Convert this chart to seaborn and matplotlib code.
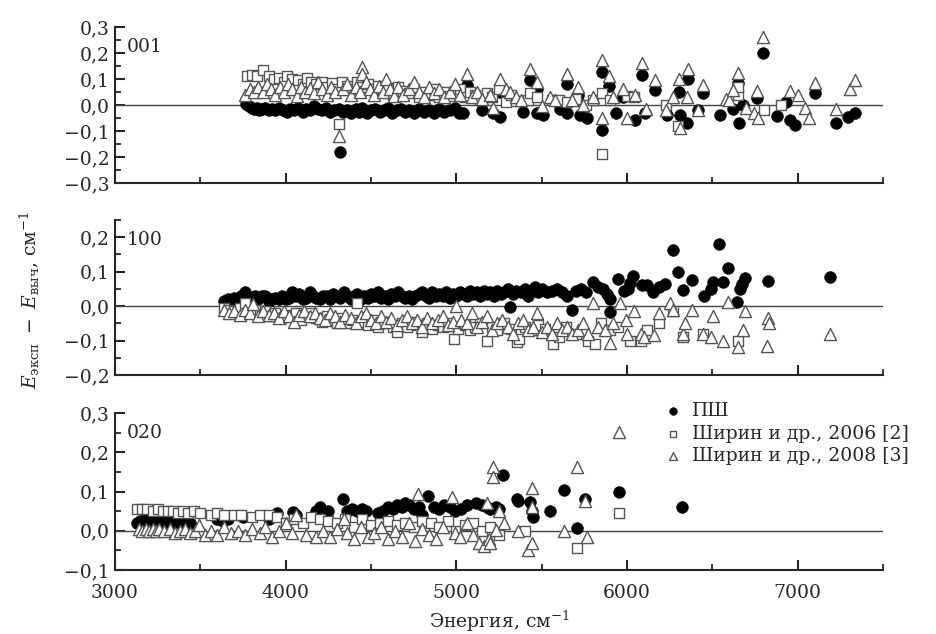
import numpy as np
import pandas as pd
import matplotlib
matplotlib.use("Agg")
import matplotlib.pyplot as plt
import seaborn as sns
from matplotlib.ticker import MultipleLocator, FuncFormatter

# ---------------- data ----------------
# Panel 001
p1_psh_x = [3770, 3785, 3800, 3815, 3830, 3845, 3860, 3880, 3900, 3920, 3940, 3960, 3985, 4005, 4025, 4050,
            4075, 4100, 4120, 4140, 4165, 4190, 4210, 4235, 4260, 4285, 4310, 4335, 4360, 4385, 4410, 4430,
            4450, 4475, 4500, 4525, 4550, 4575, 4600, 4625, 4650, 4675, 4700, 4725, 4750, 4780, 4810, 4840,
            4870, 4900, 4930, 4960, 4990, 5015, 5040, 4320,
            5060, 5148, 5216, 5255, 5255, 5392, 5431, 5470, 5470, 5505, 5606, 5648, 5648, 5714, 5724, 5763,
            5851, 5851, 5894, 5938, 5976, 6046, 6085, 6105, 6163, 6232, 6304, 6310, 6349, 6358, 6417, 6446,
            6545, 6621, 6651, 6656, 6680, 6759, 6798, 6876, 6930, 6954, 6983, 7101, 7227, 7295, 7335]
p1_psh_y = [0.005, -0.005, -0.010, -0.015, -0.010, -0.020, -0.015, -0.010, -0.020, -0.015, -0.020, -0.010,
            -0.020, -0.025, -0.015, -0.020, -0.010, -0.025, -0.015, -0.020, -0.005, -0.015, -0.020, -0.010,
            -0.025, -0.020, -0.015, -0.025, -0.020, -0.030, -0.015, -0.025, -0.010, -0.030, -0.020, -0.015,
            -0.025, -0.020, -0.010, -0.030, -0.020, -0.015, -0.025, -0.020, -0.030, -0.015, -0.025, -0.020,
            -0.030, -0.015, -0.025, -0.020, -0.010, -0.030, -0.030, -0.180,
            0.078, -0.020, -0.030, 0.050, -0.045, -0.025, 0.096, 0.060, -0.030, -0.040, -0.017, 0.080, -0.030,
            0.040, -0.040, -0.050, 0.128, -0.096, 0.073, -0.030, 0.032, -0.058, 0.115, -0.030, 0.058, -0.040,
            0.050, -0.040, -0.070, 0.100, -0.020, 0.045, -0.040, -0.016, 0.083, -0.070, 0.000, 0.026, 0.200,
            -0.042, 0.010, -0.058, -0.077, 0.047, -0.070, -0.045, -0.032]
p1_s06_x = [3775, 3800, 3830, 3870, 3900, 3930, 3960, 3990, 4010, 4040, 4070, 4100, 4125, 4150, 4180, 4210,
            4240, 4270, 4300, 4330, 4360, 4390, 4420, 4450, 4480, 4510, 4540, 4570, 4600, 4630, 4660, 4690,
            4720, 4750, 4780, 4810, 4840, 4870, 4900, 4930, 4960, 4990, 5020, 5050, 5080, 5110, 5140, 5180,
            5210, 5250, 5290, 5320, 5350, 5420, 5431, 5470, 5560, 5600, 5650, 5700, 5760, 5800, 5851, 5851,
            5900, 6000, 6040, 6230, 6300, 6650, 6650, 6900, 6800, 4312]
p1_s06_y = [0.110, 0.115, 0.110, 0.135, 0.110, 0.100, 0.105, 0.090, 0.110, 0.100, 0.095, 0.080, 0.105, 0.090,
            0.080, 0.090, 0.070, 0.085, 0.060, 0.090, 0.075, 0.060, 0.090, 0.070, 0.080, 0.060, 0.075, 0.050,
            0.065, 0.040, 0.070, 0.055, 0.045, 0.060, 0.030, 0.050, 0.040, 0.060, 0.030, 0.050, 0.035, 0.045,
            0.060, 0.030, 0.050, 0.040, 0.020, 0.045, 0.030, 0.060, 0.010, 0.040, 0.015, 0.020, 0.045, 0.030,
            0.020, 0.020, 0.010, 0.025, 0.000, 0.020, 0.045, -0.190, 0.020, 0.035, 0.030, 0.000, -0.080, 0.040,
            0.070, 0.000, -0.020, -0.073]
p1_s08_x = [3760, 3790, 3815, 3840, 3865, 3890, 3915, 3940, 3965, 3990, 4015, 4040, 4065, 4090, 4115, 4140,
            4165, 4190, 4215, 4240, 4265, 4290, 4312, 4335, 4360, 4385, 4410, 4435, 4445, 4445, 4470, 4495,
            4520, 4545, 4570, 4587, 4610, 4635, 4660, 4690, 4720, 4750, 4780, 4810, 4840, 4870, 4900, 4930,
            4960, 4990, 5020, 5060, 5090, 5120, 5150, 5200, 5216, 5255, 5290, 5314, 5350, 5380, 5431, 5470,
            5500, 5548, 5580, 5648, 5680, 5714, 5740, 5800, 5851, 5851, 5894, 5920, 5976, 6000, 6046, 6085,
            6110, 6163, 6230, 6270, 6304, 6310, 6349, 6358, 6417, 6446, 6579, 6600, 6621, 6651, 6700, 6745,
            6759, 6767, 6798, 6954, 7000, 7042, 7065, 7101, 7227, 7308, 7335]
p1_s08_y = [0.040, 0.060, 0.050, 0.070, 0.050, 0.080, 0.060, 0.040, 0.070, 0.050, 0.080, 0.060, 0.035, 0.070,
            0.050, 0.065, 0.045, 0.090, 0.060, 0.040, 0.070, 0.050, -0.120, 0.060, 0.080, 0.040, 0.070, 0.050,
            0.147, 0.120, 0.090, 0.060, 0.040, 0.075, 0.050, 0.100, 0.060, 0.035, 0.070, 0.040, 0.060, 0.090,
            0.050, 0.030, 0.070, 0.045, 0.060, 0.030, 0.050, 0.080, 0.040, 0.120, 0.030, 0.050, 0.025, 0.040,
            -0.010, 0.100, 0.060, 0.050, 0.030, 0.020, 0.140, 0.090, -0.005, 0.030, 0.020, 0.120, 0.020, 0.070,
            0.000, 0.030, 0.175, -0.050, 0.110, 0.030, 0.060, -0.050, 0.040, 0.160, -0.015, 0.096, -0.020,
            0.030, 0.100, -0.090, 0.030, 0.140, -0.020, 0.077, 0.023, 0.020, 0.056, 0.124, -0.010, -0.030,
            0.055, -0.050, 0.260, 0.055, 0.038, -0.013, -0.050, 0.083, -0.017, 0.060, 0.096]

# Panel 100
p2_psh_x = [3640, 3660, 3680, 3700, 3720, 3740, 3760, 3780, 3800, 3820, 3840, 3860, 3880, 3900, 3920, 3940,
            3960, 3980, 4000, 4020, 4040, 4060, 4080, 4100, 4120, 4140, 4160, 4180, 4200, 4220, 4240, 4260,
            4280, 4300, 4320, 4340, 4360, 4380, 4400, 4420, 4440, 4460, 4480, 4500, 4520, 4540, 4560, 4580,
            4600, 4620, 4640, 4660, 4680, 4700, 4720, 4740, 4760, 4780, 4800, 4820, 4840, 4860, 4880, 4900,
            4920, 4940, 4960, 4980, 5000, 5020, 5040, 5060, 5080, 5100, 5120, 5140, 5160, 5180, 5200, 5220,
            5240, 5260, 5280, 5300, 5314, 5330, 5350, 5380, 5400, 5420, 5440, 5460, 5480, 5500, 5530, 5560,
            5590, 5620, 5650, 5675, 5700, 5730, 5760, 5802, 5830, 5860, 5880, 5898, 5900, 5949, 5980, 6007,
            6017, 6036, 6085, 6120, 6150, 6190, 6222, 6271, 6300, 6329, 6378, 6451, 6493, 6505, 6540, 6564,
            6593, 6646, 6660, 6672, 6691, 6827, 7189]
p2_psh_y = [0.015, 0.020, 0.018, 0.025, 0.020, 0.030, 0.040, 0.020, 0.025, 0.030, 0.020, 0.030, 0.030, 0.015,
            0.020, 0.025, 0.020, 0.030, 0.020, 0.025, 0.040, 0.030, 0.035, 0.020, 0.025, 0.040, 0.030, 0.025,
            0.020, 0.030, 0.030, 0.020, 0.035, 0.030, 0.025, 0.040, 0.030, 0.020, 0.030, 0.035, 0.020, 0.030,
            0.025, 0.035, 0.030, 0.040, 0.025, 0.030, 0.020, 0.035, 0.030, 0.040, 0.030, 0.025, 0.030, 0.020,
            0.030, 0.035, 0.040, 0.030, 0.025, 0.040, 0.030, 0.035, 0.030, 0.040, 0.025, 0.035, 0.030, 0.040,
            0.035, 0.030, 0.045, 0.035, 0.040, 0.030, 0.045, 0.035, 0.040, 0.030, 0.045, 0.035, 0.040, 0.050,
            -0.003, 0.035, 0.045, 0.040, 0.050, 0.030, 0.045, 0.055, 0.040, 0.050, 0.040, 0.045, 0.050, 0.040,
            0.030, -0.010, 0.045, 0.050, 0.040, 0.070, 0.055, 0.050, 0.035, -0.017, 0.020, 0.080, 0.045, 0.050,
            0.067, 0.087, 0.060, 0.060, 0.040, 0.055, 0.065, 0.164, 0.100, 0.048, 0.075, 0.029, 0.050, 0.070,
            0.180, 0.070, 0.111, 0.012, 0.050, 0.065, 0.083, 0.073, 0.085]
p2_s06_x = [3640, 3670, 3700, 3730, 3760, 3790, 3820, 3850, 3880, 3910, 3940, 3970, 4000, 4030, 4060, 4090,
            4120, 4150, 4180, 4210, 4240, 4270, 4300, 4330, 4360, 4390, 4420, 4450, 4480, 4510, 4540, 4570,
            4600, 4630, 4650, 4680, 4710, 4740, 4770, 4797, 4830, 4860, 4890, 4920, 4950, 4986, 5010, 5050,
            5080, 5110, 5140, 5177, 5210, 5240, 5280, 5320, 5353, 5370, 5400, 5440, 5480, 5520, 5568, 5600,
            5640, 5700, 5773, 5812, 5850, 5900, 5950, 6017, 6080, 6120, 6190, 6270, 6329, 6446, 6651]
p2_s06_y = [-0.005, -0.010, -0.015, -0.005, 0.010, -0.020, -0.010, -0.025, -0.015, -0.030, -0.020, -0.035,
            -0.025, -0.030, -0.020, -0.040, -0.030, -0.020, -0.035, -0.045, -0.030, -0.040, -0.050, -0.035,
            -0.050, -0.040, 0.010, -0.045, -0.055, -0.040, -0.060, -0.045, -0.050, -0.060, -0.075, -0.050,
            -0.060, -0.045, -0.055, -0.075, -0.050, -0.065, -0.055, -0.060, -0.050, -0.095, -0.065, -0.055,
            -0.070, -0.060, -0.050, -0.100, -0.060, -0.070, -0.050, -0.065, -0.105, -0.095, -0.060, -0.070,
            -0.055, -0.065, -0.110, -0.090, -0.060, -0.080, -0.100, -0.110, -0.050, -0.070, -0.060, -0.100,
            -0.100, -0.070, -0.050, -0.015, -0.090, -0.080, -0.100]
p2_s08_x = [3640, 3670, 3700, 3730, 3760, 3790, 3810, 3840, 3870, 3900, 3930, 3960, 3990, 4020, 4050, 4080,
            4110, 4140, 4170, 4200, 4230, 4260, 4290, 4320, 4350, 4380, 4410, 4440, 4470, 4500, 4530, 4560,
            4590, 4620, 4650, 4680, 4710, 4740, 4770, 4800, 4830, 4860, 4890, 4920, 4950, 4980, 5000, 5030,
            5060, 5090, 5120, 5150, 5180, 5210, 5240, 5270, 5300, 5330, 5360, 5390, 5420, 5450, 5470, 5500,
            5530, 5560, 5590, 5620, 5650, 5680, 5710, 5740, 5770, 5800, 5830, 5870, 5900, 5920, 5960, 5997,
            6000, 6040, 6080, 6100, 6160, 6190, 6250, 6270, 6329, 6339, 6378, 6446, 6493, 6501, 6564, 6593,
            6651, 6681, 6691, 6822, 6827, 6830, 7189]
p2_s08_y = [-0.010, -0.020, -0.015, -0.025, -0.010, -0.020, 0.005, -0.030, -0.015, -0.025, -0.020, -0.035,
            -0.015, -0.030, -0.045, -0.025, -0.015, -0.030, -0.020, -0.035, -0.040, -0.020, -0.030, -0.045,
            -0.025, -0.035, -0.050, -0.030, -0.020, -0.040, -0.050, -0.030, -0.045, -0.035, -0.055, -0.040,
            -0.030, -0.050, -0.040, -0.060, -0.035, -0.050, -0.040, -0.030, -0.055, -0.045, 0.000, -0.040,
            -0.050, -0.020, -0.060, -0.045, -0.030, -0.070, -0.050, -0.040, -0.060, -0.080, -0.050, -0.040,
            -0.070, -0.060, -0.020, -0.075, -0.060, -0.080, -0.050, -0.070, -0.060, -0.080, -0.070, -0.050,
            -0.080, 0.010, -0.060, -0.070, -0.106, -0.050, 0.010, -0.040, -0.080, -0.015, -0.080, -0.090,
            -0.085, -0.020, 0.010, -0.010, -0.080, -0.048, -0.010, -0.080, -0.090, -0.030, -0.100, 0.012,
            -0.118, -0.070, -0.015, -0.115, -0.035, -0.050, -0.080]

# Panel 020
p3_psh_x = [3130, 3145, 3160, 3175, 3190, 3205, 3220, 3235, 3250, 3265, 3280, 3295, 3310, 3325, 3340, 3360,
            3380, 3400, 3420, 3440, 3600, 3630, 3660, 3750, 3900, 3950, 4045, 4060, 4180, 4201, 4250, 4337,
            4360, 4390, 4420, 4450, 4470, 4540, 4570, 4600, 4630, 4650, 4680, 4700, 4720, 4750, 4780, 4800,
            4835, 4870, 4900, 4930, 4960, 4990, 5030, 5060, 5118, 5150, 5180, 5200, 5230, 5250, 5271, 5353,
            5363, 5431, 5441, 5450, 5548, 5630, 5705, 5753, 5954, 6320]
p3_psh_y = [0.020, 0.025, 0.020, 0.030, 0.025, 0.020, 0.030, 0.025, 0.020, 0.030, 0.025, 0.020, 0.030, 0.025,
            0.020, 0.025, 0.020, 0.025, 0.020, 0.020, 0.030, 0.025, 0.030, 0.035, 0.030, 0.045, 0.047, 0.040,
            0.050, 0.060, 0.050, 0.082, 0.050, 0.055, 0.050, 0.055, 0.050, 0.045, 0.050, 0.060, 0.055, 0.065,
            0.060, 0.070, 0.065, 0.055, 0.060, 0.040, 0.088, 0.060, 0.055, 0.065, 0.060, 0.050, 0.055, 0.065,
            0.070, 0.065, 0.060, 0.055, 0.060, 0.055, 0.141, 0.081, 0.077, 0.074, 0.050, 0.035, 0.051, 0.104,
            0.008, 0.081, 0.100, 0.060]
p3_s06_x = [3130, 3160, 3190, 3220, 3250, 3280, 3310, 3340, 3370, 3400, 3430, 3460, 3500, 3560, 3600, 3640,
            3700, 3740, 3800, 3850, 3900, 3950, 4000, 4050, 4100, 4150, 4200, 4250, 4300, 4350, 4400, 4450,
            4500, 4550, 4600, 4650, 4700, 4750, 4800, 4850, 4900, 4950, 5000, 5050, 5100, 5150, 5200, 5250,
            5400, 5705, 5954]
p3_s06_y = [0.055, 0.055, 0.055, 0.050, 0.055, 0.050, 0.050, 0.050, 0.045, 0.050, 0.045, 0.050, 0.045, 0.040,
            0.045, 0.040, 0.040, 0.040, 0.035, 0.040, 0.040, 0.035, 0.020, 0.030, 0.020, 0.035, 0.030, 0.025,
            0.020, 0.030, 0.010, 0.030, 0.015, 0.020, 0.025, 0.015, 0.020, 0.010, 0.025, 0.020, 0.010, 0.025,
            0.000, 0.015, 0.020, 0.000, 0.010, -0.010, 0.000, -0.043, 0.044]
p3_s08_x = [3140, 3160, 3180, 3200, 3220, 3240, 3260, 3290, 3320, 3350, 3380, 3410, 3440, 3470, 3490, 3530,
            3560, 3600, 3640, 3680, 3720, 3760, 3800, 3850, 3880, 3920, 3960, 4000, 4040, 4060, 4120, 4180,
            4220, 4260, 4300, 4340, 4360, 4400, 4440, 4480, 4520, 4560, 4600, 4640, 4680, 4720, 4760, 4776,
            4800, 4840, 4880, 4920, 4972, 4990, 5020, 5060, 5100, 5130, 5160, 5180, 5190, 5200, 5216, 5216,
            5230, 5250, 5280, 5363, 5421, 5441, 5441, 5445, 5630, 5705, 5753, 5763, 5954]
p3_s08_y = [0.005, 0.000, 0.005, 0.000, 0.005, 0.000, 0.005, 0.000, 0.005, -0.005, 0.000, 0.005, -0.005,
            0.000, 0.015, -0.010, 0.000, -0.010, 0.010, -0.005, 0.000, -0.010, 0.005, -0.005, 0.010, -0.015,
            0.000, 0.020, -0.005, 0.040, -0.010, -0.015, 0.000, -0.015, 0.005, 0.030, -0.005, -0.020, 0.010,
            -0.015, -0.005, 0.010, -0.020, 0.000, -0.015, 0.020, -0.025, 0.094, 0.005, -0.010, -0.020, 0.010,
            0.085, -0.005, -0.015, 0.020, -0.010, -0.030, -0.040, 0.070, -0.020, -0.030, 0.162, 0.137, 0.003,
            0.050, 0.020, 0.000, -0.050, -0.030, 0.110, 0.060, 0.000, 0.162, 0.075, -0.017, 0.252]

panel_names = ["001", "100", "020"]
series_labels = ["ПШ", "Ширин и др., 2006 [2]", "Ширин и др., 2008 [3]"]
ylims = [(-0.3, 0.3), (-0.2, 0.25), (-0.1, 0.3)]
yticks = [[-0.3, -0.2, -0.1, 0.0, 0.1, 0.2, 0.3],
          [-0.2, -0.1, 0.0, 0.1, 0.2],
          [-0.1, 0.0, 0.1, 0.2, 0.3]]
xticks = [3000, 4000, 5000, 6000, 7000]

panels = [
    (p1_psh_x, p1_psh_y, p1_s06_x, p1_s06_y, p1_s08_x, p1_s08_y),
    (p2_psh_x, p2_psh_y, p2_s06_x, p2_s06_y, p2_s08_x, p2_s08_y),
    (p3_psh_x, p3_psh_y, p3_s06_x, p3_s06_y, p3_s08_x, p3_s08_y),
]

# ---------------- style ----------------
sns.set_style("ticks")
plt.rcParams["font.family"] = ["DejaVu Serif"]
plt.rcParams["mathtext.fontset"] = "dejavuserif"
FS = 13.5

fig = plt.figure(figsize=(9.37, 6.34), dpi=100)
W, H = 937, 634
left, right = 115, 883
boxes = [(27, 183), (220, 375), (413, 570)]

def fmt(v, pos):
    s = f"{v:.1f}".replace(".", ",")
    if s.startswith("-"):
        s = "\u2212" + s[1:]
    if s == "\u22120,0":
        s = "0,0"
    return s

axes = []
for i, (top, bot) in enumerate(boxes):
    ax = fig.add_axes([left / W, 1 - bot / H, (right - left) / W, (bot - top) / H])
    axes.append(ax)
    px, py, sx, sy, tx, ty = panels[i]
    ax.axhline(0, color="#444444", lw=1.0, zorder=1)
    sns.scatterplot(x=px, y=py, ax=ax, marker="o", s=72, color="black", edgecolor="black",
                    linewidth=0.4, label=series_labels[0], zorder=3, legend=False)
    sns.scatterplot(x=sx, y=sy, ax=ax, marker="s", s=44, color="white", edgecolor="#555555",
                    linewidth=1.0, label=series_labels[1], zorder=4, legend=False)
    sns.scatterplot(x=tx, y=ty, ax=ax, marker="^", s=76, color="white", edgecolor="#555555",
                    linewidth=1.0, label=series_labels[2], zorder=5, legend=False)
    ax.set_xlim(3000, 7500)
    ax.set_ylim(*ylims[i])
    ax.set_yticks(yticks[i])
    ax.yaxis.set_minor_locator(MultipleLocator(0.05))
    ax.set_xticks(xticks)
    ax.xaxis.set_minor_locator(MultipleLocator(500))
    ax.yaxis.set_major_formatter(FuncFormatter(fmt))
    ax.tick_params(which="major", direction="in", length=7, width=1.5, labelsize=FS, pad=4)
    ax.tick_params(axis="x", which="major", pad=10)
    ax.tick_params(which="minor", direction="in", length=4, width=1.3)
    for sp in ["top", "right"]:
        ax.spines[sp].set_visible(False)
    for sp in ["left", "bottom"]:
        ax.spines[sp].set_linewidth(1.5)
    ax.set_xlabel("")
    ax.set_ylabel("")
    if i < 2:
        ax.tick_params(axis="x", labelbottom=False)
    ax.text(0.015, 0.93, panel_names[i], transform=ax.transAxes, fontsize=FS, va="top", ha="left")

axes[2].set_xlabel("Энергия, см$^{-1}$", fontsize=FS, labelpad=5)
fig.text(30 / W, 1 - 300 / H, r"$E_{\mathrm{эксп}}\ -\ E_{\mathrm{выч}}$, см$^{-1}$",
         rotation=90, fontsize=FS, ha="center", va="center")

handles, labels = axes[2].get_legend_handles_labels()
axes[2].legend(handles, labels, loc="upper left", bbox_to_anchor=(0.715, 1.07), frameon=False,
               fontsize=FS, markerscale=0.65, handletextpad=0.5, labelspacing=0.25,
               borderpad=0, borderaxespad=0, handlelength=1.0)

fig.savefig("out.png", dpi=100)
